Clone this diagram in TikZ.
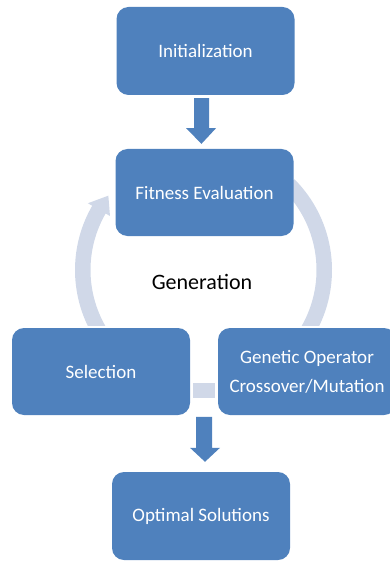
\documentclass[tikz,border=0pt]{standalone}
\usepackage{fontspec}
\setmainfont{Carlito}
\usetikzlibrary{calc}
\definecolor{boxblue}{RGB}{79,129,189}
\definecolor{cyclight}{RGB}{208,216,232}
\tikzset{
  stagebox/.style={fill=boxblue, rounded corners=12pt, minimum width=178pt, minimum height=88pt, inner sep=0pt, text=white, font=\fontsize{19}{29}\selectfont, align=center},
  blockarrow/.style={fill=boxblue},
  cycband/.style={draw=cyclight, line width=15.5pt},
  cychead/.style={fill=cyclight},
}
\begin{document}
\begin{tikzpicture}[x=1pt,y=-1pt]
\useasboundingbox (0,0) rectangle (390,561);
\coordinate (c) at (203.5,270);
% cycle band
\begin{scope}
\clip (0,0) rectangle (390,325);
\draw[cycband] ($(c)+(-45:120.75)$) arc[start angle=-45, end angle=30, radius=120.75];
\draw[cycband] ($(c)+(150:120.75)$) arc[start angle=150, end angle=210.5, radius=120.75];
\end{scope}
\fill[cychead] ($(c)+(210:133.5)$) -- ($(c)+(218:120.75)$) -- ($(c)+(210:108)$) -- cycle;
% boxes
\node[stagebox] (init) at (205.5,51) {Initialization};
\node[stagebox, minimum height=87pt] (fit) at (204.5,192.5) {Fitness Evaluation};
\node[stagebox, minimum height=87pt] (sel) at (101,371.5) {Selection};
\node[stagebox, minimum height=87pt] (gen) at (307,371.5) {Genetic Operator\\Crossover/Mutation};
\node[stagebox] (opt) at (201,516) {Optimal Solutions};
\node[fill=cyclight, minimum width=22pt, minimum height=15pt, inner sep=0pt] (sq) at (204,390.5) {};
\node[font=\fontsize{22}{26}\selectfont, text=black] (lbl) at (202,282) {Generation};
% block arrows
\fill[blockarrow] ($(init.south)+(-11.5,3)$) -- ($(init.south)+(3.5,3)$) -- ($(init.south)+(3.5,33)$) -- ($(init.south)+(10.5,33)$) -- ($(fit.north)+(-3,-5)$) -- ($(init.south)+(-19.5,33)$) -- ($(init.south)+(-11.5,33)$) -- cycle;
\fill[blockarrow] ($(opt.north)+(-5,-55)$) -- ($(opt.north)+(11,-55)$) -- ($(opt.north)+(11,-24)$) -- ($(opt.north)+(19,-24)$) -- ($(opt.north)+(4,-10)$) -- ($(opt.north)+(-11,-24)$) -- ($(opt.north)+(-5,-24)$) -- cycle;
\end{tikzpicture}
\end{document}
